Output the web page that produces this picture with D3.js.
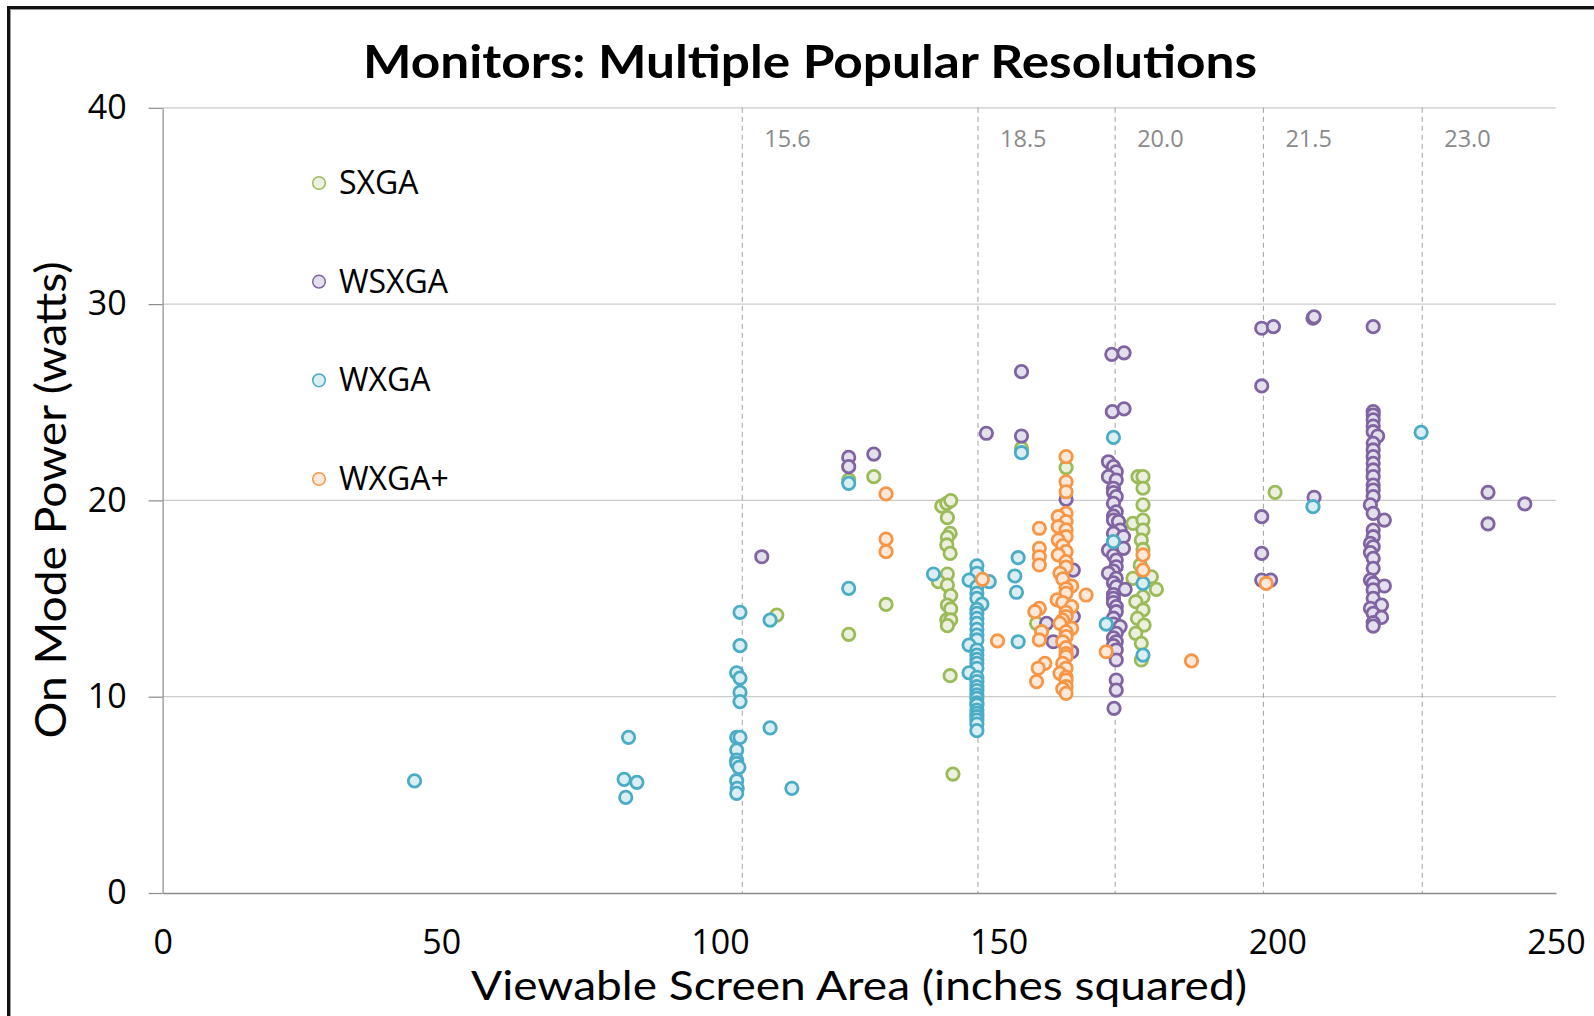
<!DOCTYPE html>
<html>
<head>
<meta charset="utf-8">
<script src="https://cdn.jsdelivr.net/npm/d3@7"></script>
<style>
  html, body { margin: 0; padding: 0; background: #ffffff; }
  svg { display: block; font-family: "Open Sans", Lato, "Liberation Sans", sans-serif; }
</style>
</head>
<body>
<svg id="chart" width="1594" height="1016"></svg>
<script>
// ---------------- DATA ----------------
const chartTitle = "Monitors: Multiple Popular Resolutions";
const xTitle = "Viewable Screen Area (inches squared)";
const yTitle = "On Mode Power (watts)";

const categories = ["SXGA", "WSXGA", "WXGA", "WXGA+"];

const xTicks = [0, 50, 100, 150, 200, 250];
const yTicks = [0, 10, 20, 30, 40];

// reference lines: screen diagonal (inches) and its 16:9 viewable area (sq in)
const refDiagonals = ["15.6", "18.5", "20.0", "21.5", "23.0"];
const refAreas = [104.0, 146.3, 170.9, 197.5, 226.0];

// [viewable area, on mode power]
const sxga = [
  [110.2,14.16],[123.1,21.04],[127.6,21.21],[129.8,14.70],[123.1,13.18],
  [139.8,19.71],[140.7,19.85],[141.4,19.99],[140.8,19.12],[141.3,18.32],[140.8,18.12],
  [140.7,17.73],[141.3,17.30],[140.8,16.25],[139.2,15.86],[140.8,15.69],[141.4,15.15],
  [140.8,14.67],[141.4,14.47],[140.7,13.91],[141.4,13.91],[140.8,13.62],[141.3,11.07],
  [141.8,6.06],[154.1,22.65],[162.1,21.67],[156.8,13.74],
  [175.0,21.21],[175.9,21.21],[175.9,20.62],[175.9,19.77],[174.1,18.83],[175.9,19.00],
  [175.9,18.49],[175.6,17.98],[175.9,17.50],[175.4,16.70],[174.1,16.03],[177.4,16.11],
  [178.3,15.47],[175.9,15.09],[174.6,14.84],[175.9,14.42],[174.9,13.99],[176.1,13.65],
  [174.6,13.23],[175.6,12.72],[175.6,11.87],[199.6,20.41]
];

const wsxga = [
  [107.5,17.13],[123.1,22.19],[123.1,21.72],[127.6,22.36],[147.8,23.42],[154.1,26.56],
  [154.1,23.28],[170.3,27.44],[172.5,27.52],[170.4,24.52],[172.5,24.66],
  [162.1,20.05],[163.4,16.45],[163.4,14.08],[163.1,12.29],[158.6,13.74],[159.8,12.80],
  [169.7,21.97],[170.6,21.72],[171.1,21.46],[169.7,21.21],[171.1,21.04],[170.6,20.62],
  [170.6,20.40],[171.1,20.19],[170.6,19.85],[171.1,19.42],[170.6,19.20],[170.6,19.00],
  [171.5,18.92],[171.8,18.49],[170.6,18.32],[172.4,18.15],[170.6,17.80],[172.4,17.56],
  [169.7,17.47],[170.6,17.20],[171.1,16.96],[171.1,16.62],[170.6,16.40],[169.7,16.29],
  [171.1,16.03],[170.6,15.80],[171.1,15.60],[172.7,15.47],[170.6,15.20],[170.6,15.01],
  [170.6,14.80],[171.1,14.59],[171.1,14.33],[170.6,14.00],[170.6,13.70],[171.8,13.57],
  [171.1,13.23],[170.6,13.00],[171.1,12.80],[170.6,12.60],[171.1,12.38],[171.1,11.87],
  [171.1,10.85],[171.1,10.34],[170.7,9.41],
  [197.2,28.77],[199.3,28.85],[206.4,29.28],[206.6,29.35],[217.2,28.85],[197.2,25.83],
  [206.6,20.16],[197.2,19.17],[197.2,17.30],[197.2,15.94],[198.8,15.94],
  [237.8,20.41],[244.4,19.82],[237.8,18.80],
  [217.2,24.52],[217.2,24.35],[217.2,24.10],[217.2,23.79],[217.2,23.50],[218.0,23.28],
  [217.2,22.91],[217.2,22.57],[217.2,22.23],[217.2,21.89],[217.2,21.55],[217.2,21.21],
  [217.2,20.78],[217.2,20.53],[217.2,20.19],[216.7,19.77],[217.2,19.34],[219.2,19.00],
  [217.2,18.49],[217.2,18.15],[216.7,17.81],[217.2,17.64],[216.7,17.34],[217.2,17.05],
  [217.2,16.54],[216.7,15.94],[217.2,15.77],[219.2,15.64],[217.2,15.44],[217.2,15.01],
  [218.7,14.67],[216.7,14.50],[217.2,14.25],[218.7,14.04],[217.2,13.77],[217.2,13.60]
];

const wxga = [
  [45.2,5.71],[83.6,7.93],[82.8,5.79],[85.1,5.64],[83.1,4.87],
  [103.6,14.30],[103.6,12.60],[103.0,11.22],[103.6,10.95],[103.6,10.22],[103.6,9.75],
  [103.0,7.93],[103.6,7.93],[103.0,7.28],[103.0,6.77],[103.0,6.60],[103.4,6.40],
  [103.0,5.72],[103.1,5.33],[103.0,5.08],
  [109.0,13.90],[109.0,8.41],[112.9,5.33],[123.1,20.87],[123.1,15.52],[138.3,16.25],
  [146.1,16.67],[146.1,16.29],[144.7,15.94],[146.1,15.60],[146.1,15.27],[146.1,15.01],
  [147.0,14.72],[146.1,14.45],[146.1,14.25],[146.1,13.99],[146.1,13.74],[146.1,13.43],
  [146.1,13.14],[146.1,12.89],[144.7,12.63],[146.1,12.38],[146.1,12.12],[146.1,11.90],
  [146.1,11.70],[146.1,11.45],[144.7,11.22],[146.1,10.99],[146.1,10.77],[146.1,10.51],
  [146.1,10.31],[146.1,10.09],[146.1,9.92],[146.1,9.69],[146.1,9.58],[146.1,9.32],
  [146.1,9.15],[146.1,8.98],[146.1,8.81],[146.1,8.61],[146.1,8.27],
  [148.3,15.86],[153.5,17.08],[152.9,16.15],[153.2,15.32],[153.5,12.80],[154.1,22.43],
  [170.6,23.21],[170.6,17.90],[169.3,13.70],[175.9,15.77],[175.9,12.12],
  [206.4,19.68],[225.8,23.47]
];

const wxgaPlus = [
  [129.8,20.33],[129.8,18.03],[129.8,17.39],[147.1,15.98],[149.8,12.84],
  [162.1,22.23],[162.1,20.95],[162.1,20.44],[162.1,19.34],[160.7,19.17],[162.1,18.92],
  [160.7,18.66],[162.1,18.50],[162.1,18.15],[160.7,17.98],[161.5,17.70],[162.1,17.39],
  [160.7,17.22],[162.1,16.88],[162.1,16.60],[161.0,16.29],[161.5,16.00],[163.1,15.64],
  [162.1,15.50],[162.1,15.27],[165.7,15.18],[160.5,14.93],[161.5,14.80],[163.1,14.59],
  [162.1,14.30],[162.1,14.08],[161.5,13.90],[161.0,13.74],[163.1,13.48],[162.1,13.30],
  [162.1,13.06],[161.5,12.80],[162.1,12.50],[162.1,12.20],[162.1,12.04],[161.5,11.70],
  [162.1,11.45],[161.0,11.19],[162.1,11.00],[162.1,10.85],[162.1,10.51],[161.5,10.40],
  [162.1,10.17],
  [157.3,18.58],[157.3,17.56],[157.3,17.13],[157.3,16.71],[157.3,14.50],[156.5,14.33],
  [157.7,13.31],[157.3,12.89],[158.3,11.70],[157.1,11.45],[156.8,10.77],
  [169.3,12.29],[175.9,17.22],[175.9,16.45],[184.6,11.82],[198.0,15.77]
];

const seriesValues = [sxga, wsxga, wxga, wxgaPlus];
const strokeColors = ["#9bbb59", "#8064a2", "#4bacc6", "#f79646"];
const fillColors = ["#ebf1de", "#e4dfec", "#daeef3", "#fde9d9"];

// ---------------- CHART ----------------
const svg = d3.select("#chart");
const plotLeft = 162.6, plotRight = 1556, plotTop = 107.8, plotBottom = 893;

const x = d3.scaleLinear().domain([0, 250]).range([plotLeft, plotRight]);
const y = d3.scaleLinear().domain([0, 40]).range([plotBottom, plotTop]);

// outer frame (cropped at right & bottom)
svg.append("rect")
  .attr("x", 8.5).attr("y", 7.5)
  .attr("width", 1700).attr("height", 1200)
  .attr("fill", "none").attr("stroke", "#111").attr("stroke-width", 3);
svg.append("rect")
  .attr("x", 10.5).attr("y", 9.5)
  .attr("width", 1700).attr("height", 1200)
  .attr("fill", "none").attr("stroke", "#9a9a9a").attr("stroke-width", 1);

// gridlines
svg.append("g").selectAll("line")
  .data(yTicks.filter(d => d > 0))
  .join("line")
  .attr("x1", plotLeft).attr("x2", plotRight)
  .attr("y1", d => y(d)).attr("y2", d => y(d))
  .attr("stroke", "#cccccc").attr("stroke-width", 1.3);

// reference (dashed) lines
svg.append("g").selectAll("line")
  .data(refAreas)
  .join("line")
  .attr("x1", d => x(d)).attr("x2", d => x(d))
  .attr("y1", plotTop).attr("y2", plotBottom)
  .attr("stroke", "#a0a0a0").attr("stroke-width", 1)
  .attr("stroke-dasharray", "5,4");

svg.append("g").selectAll("text")
  .data(refAreas)
  .join("text")
  .attr("x", d => x(d) + 22)
  .attr("y", 147)
  .attr("font-size", 23.5)
  .attr("fill", "#8a8a8a")
  .attr("font-family", "'Open Sans', sans-serif")
  .text((d, i) => refDiagonals[i]);

// y axis
const yAxis = svg.append("g")
  .attr("transform", `translate(${plotLeft},0)`)
  .call(d3.axisLeft(y).tickValues(yTicks).tickSize(14).tickSizeOuter(0).tickPadding(22));
yAxis.select(".domain").attr("stroke", "#8c8c8c").attr("stroke-width", 1.2);
yAxis.selectAll(".tick line").attr("stroke", "#8c8c8c").attr("stroke-width", 1.2);
yAxis.selectAll(".tick text").attr("font-size", 34).attr("fill", "#000")
  .attr("font-family", "'Open Sans', sans-serif");

// x axis
const xAxis = svg.append("g")
  .attr("transform", `translate(0,${plotBottom})`)
  .call(d3.axisBottom(x).tickValues(xTicks).tickSize(0).tickSizeOuter(0).tickPadding(37));
xAxis.select(".domain").attr("stroke", "#8c8c8c").attr("stroke-width", 1.5);
xAxis.selectAll(".tick text").attr("font-size", 34).attr("fill", "#000")
  .attr("font-family", "'Open Sans', sans-serif");

// points
seriesValues.forEach((vals, i) => {
  svg.append("g")
    .selectAll("circle")
    .data(vals)
    .join("circle")
    .attr("cx", d => x(d[0]))
    .attr("cy", d => y(d[1]))
    .attr("r", 6.2)
    .attr("fill", fillColors[i])
    .attr("stroke", strokeColors[i])
    .attr("stroke-width", 2.8);
});

// legend
const legendY = d3.scalePoint().domain(categories).range([183, 479]);
const lg = svg.append("g").selectAll("g")
  .data(categories)
  .join("g")
  .attr("transform", d => `translate(319,${legendY(d)})`);
lg.append("circle")
  .attr("r", 6.3)
  .attr("fill", (d, i) => fillColors[i])
  .attr("stroke", (d, i) => strokeColors[i])
  .attr("stroke-width", 1.5);
lg.append("text")
  .attr("x", 20).attr("y", 11)
  .attr("font-size", 32).attr("fill", "#000")
  .attr("font-family", "'Open Sans', sans-serif")
  .text(d => d);

// titles
svg.append("text")
  .attr("x", 810).attr("y", 78)
  .attr("text-anchor", "middle")
  .attr("font-family", "Lato, 'Open Sans', sans-serif")
  .attr("font-size", 45).attr("font-weight", "bold").attr("fill", "#000")
  .attr("textLength", 894).attr("lengthAdjust", "spacingAndGlyphs")
  .text(chartTitle);

svg.append("text")
  .attr("x", 859).attr("y", 1000)
  .attr("text-anchor", "middle")
  .attr("font-family", "Lato, 'Open Sans', sans-serif")
  .attr("font-size", 41).attr("fill", "#000")
  .attr("textLength", 776).attr("lengthAdjust", "spacingAndGlyphs")
  .text(xTitle);

svg.append("text")
  .attr("transform", "translate(66,500) rotate(-90)")
  .attr("text-anchor", "middle")
  .attr("font-family", "Lato, 'Open Sans', sans-serif")
  .attr("font-size", 42).attr("fill", "#000")
  .attr("textLength", 477).attr("lengthAdjust", "spacingAndGlyphs")
  .text(yTitle);
</script>
</body>
</html>
